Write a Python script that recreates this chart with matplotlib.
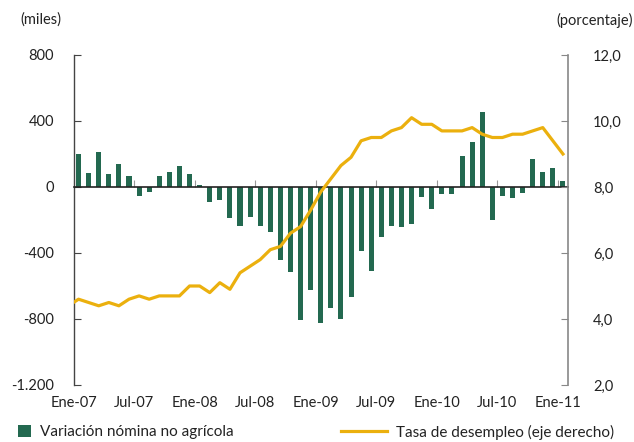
import matplotlib
matplotlib.use("Agg")
import matplotlib.pyplot as plt
from matplotlib.patches import Patch
from matplotlib.lines import Line2D
import numpy as np

plt.rcParams['font.family'] = ['Lato', 'DejaVu Sans']

# Monthly data, Ene-07 .. Ene-11
nomina = [200, 85, 212, 79, 139, 67, -53, -28, 67, 91, 127, 79,
          12, -89, -77, -186, -234, -180, -234, -271, -440, -513, -804, -622,
          -822, -731, -798, -665, -386, -507, -301, -234, -240, -222, -59, -131,
          -40, -40, 188, 273, 455, -198, -53, -65, -34, 170, 91, 115,
          36]
# Unemployment rate, Dic-06 .. Ene-11 (Dic-06 only partly visible)
desempleo = [4.4,
             4.6, 4.5, 4.4, 4.5, 4.4, 4.6, 4.7, 4.6, 4.7, 4.7, 4.7, 5.0,
             5.0, 4.8, 5.1, 4.9, 5.4, 5.6, 5.8, 6.1, 6.2, 6.6, 6.8, 7.3,
             7.85, 8.25, 8.65, 8.9, 9.4, 9.5, 9.5, 9.7, 9.8, 10.1, 9.9, 9.9,
             9.7, 9.7, 9.7, 9.8, 9.6, 9.5, 9.5, 9.6, 9.6, 9.7, 9.8, 9.4,
             9.0]
xtick_labels = ['Ene-07', 'Jul-07', 'Ene-08', 'Jul-08', 'Ene-09', 'Jul-09',
                'Ene-10', 'Jul-10', 'Ene-11']
yleft_ticks = [800, 400, 0, -400, -800, -1200]
yleft_labels = ['800', '400', '0', '-400', '-800', '-1.200']
yright_ticks = [12, 10, 8, 6, 4, 2]
yright_labels = ['12,0', '10,0', '8,0', '6,0', '4,0', '2,0']

GREEN = '#236950'
GOLD = '#EBB00E'
TXT = '#222222'
FS = 10.5

fig = plt.figure(figsize=(6.34, 4.42), dpi=100)
ax = fig.add_axes([73.5/634, 1-385/442, (568-73.5)/634, (385-55)/442])
ax2 = ax.twinx()

n = len(nomina)
xb = np.arange(n) + 0.5
ax.bar(xb, nomina, width=0.5, color=GREEN, zorder=2)
xl = np.arange(len(desempleo)) - 0.5
ax2.plot(xl, desempleo, color=GOLD, lw=2.3, solid_joinstyle='round', zorder=3)

ax.set_xlim(0, n)
ax.set_ylim(-1200, 800)
ax2.set_ylim(2, 12)

ax.spines['top'].set_visible(False)
ax2.spines['top'].set_visible(False)
ax.spines['right'].set_visible(False)
ax2.spines['left'].set_visible(False)
ax2.spines['bottom'].set_visible(False)
ax.spines['bottom'].set_position(('data', 0))
ax.spines['bottom'].set_color(TXT)
ax.spines['bottom'].set_linewidth(1.2)
ax.spines['left'].set_color('#444444')
ax.spines['left'].set_linewidth(1.0)
ax2.spines['right'].set_color('#888888')
ax2.spines['right'].set_linewidth(1.2)

xticks = list(range(0, n, 6))
ax.set_xticks(xticks)
ax.tick_params(axis='x', direction='in', length=5, color='#999999', labelbottom=False)
sec = ax.secondary_xaxis('bottom')
sec.set_xticks(xticks, xtick_labels)
sec.tick_params(length=0, pad=8, labelsize=FS, labelcolor=TXT)
sec.spines['bottom'].set_visible(False)

ax.set_yticks(yleft_ticks, yleft_labels)
ax.tick_params(axis='y', direction='in', length=5, color='#444444', pad=14,
               labelsize=FS, labelcolor=TXT)
ax2.set_yticks(yright_ticks, yright_labels)
ax2.tick_params(axis='y', direction='in', length=5, color='#888888', pad=18,
                labelsize=FS, labelcolor=TXT)

fig.text(41/634, 1-20/442, '(miles)', ha='center', va='center', fontsize=FS, color=TXT)
fig.text(595/634, 1-20/442, '(porcentaje)', ha='center', va='center', fontsize=FS, color=TXT)

h1 = Patch(facecolor=GREEN, edgecolor='none')
h2 = Line2D([0], [0], color=GOLD, lw=2.3)
fig.legend([h1], ['Variación nómina no agrícola'], loc='center left',
           bbox_to_anchor=(18/634, 1-432/442), frameon=False, fontsize=11,
           handlelength=0.85, handleheight=0.85, handletextpad=0.6, borderpad=0,
           borderaxespad=0, labelcolor=TXT)
fig.legend([h2], ['Tasa de desempleo (eje derecho)'], loc='center left',
           bbox_to_anchor=(341/634, 1-432/442), frameon=False, fontsize=11,
           handlelength=3.0, handletextpad=0.6, borderpad=0, borderaxespad=0,
           labelcolor=TXT)

fig.savefig('out.png', dpi=100)
